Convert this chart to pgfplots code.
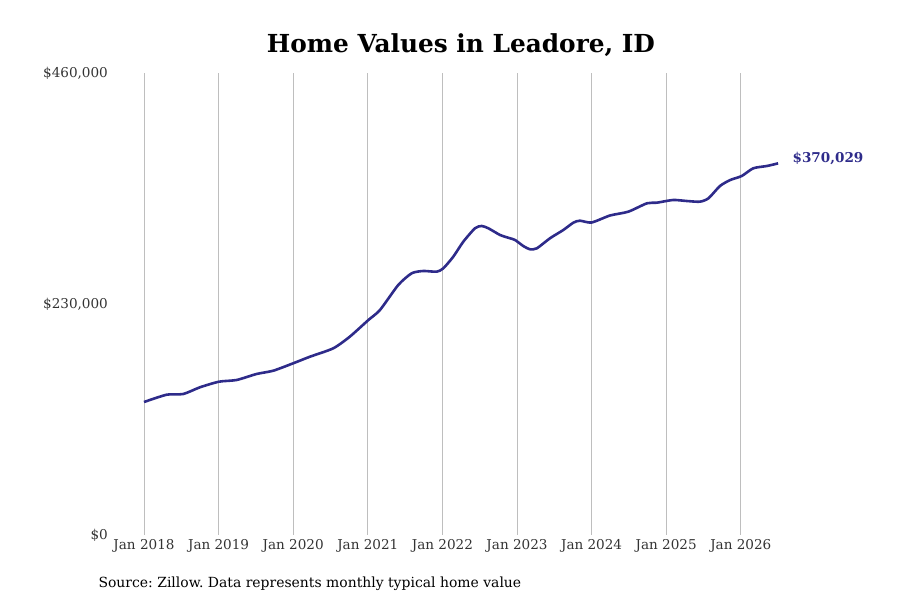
\documentclass[border=0pt]{standalone}
\usepackage{pgfplots}
\pgfplotsset{compat=1.18}
\usepackage{fontspec}
\setmainfont{DejaVu Serif}
\frenchspacing
\definecolor{linecol}{RGB}{46,43,138}
\definecolor{gridcol}{RGB}{190,190,190}
\begin{document}
\begin{tikzpicture}[x=1bp,y=1bp]
\useasboundingbox (0,0) rectangle (900,600);
\node[font=\fontsize{24.9}{29}\selectfont\bfseries] at (461,555) {Home Values in Leadore, ID};
\node[font=\fontsize{14}{17}\selectfont, anchor=west] at (95,16.5) {Source: Zillow. Data represents monthly typical home value};
\begin{axis}[
  at={(144bp,65bp)}, anchor=origin,
  scale only axis, width=690.05bp, height=462bp,
  xmin=-3, xmax=108, ymin=0, ymax=460000,
  axis line style={draw=none},
  tick style={draw=none},
  scaled y ticks=false,
  xtick={0,12,24,36,48,60,72,84,96},
  xticklabels={Jan 2018,Jan 2019,Jan 2020,Jan 2021,Jan 2022,Jan 2023,Jan 2024,Jan 2025,Jan 2026},
  ytick={0,230000,460000},
  yticklabels={\$0,\$230{,}000,\$460{,}000},
  xmajorgrids, major grid style={gridcol, line width=0.8bp},
  ticklabel style={font=\fontsize{13.6}{16}\selectfont, text=black!80},
  yticklabel style={anchor=east, xshift=-14bp},
  xticklabel style={yshift=-1bp},
  /pgf/number format/assume math mode=true,
  clip=false,
]
\addplot[linecol, line width=2.6bp, smooth, tension=0.4] coordinates {
(0,132400) (3.65,139700) (6.32,140400) (9.0,147060) (12.06,152640)
(14.9,154330) (18.1,160300) (20.8,163590) (24.0,170960) (26.7,177530)
(30.45,185890) (33.1,197440) (36.1,214070) (37.96,224030) (40.9,248920)
(43.06,260570) (44.93,262860) (47.08,262160) (48.15,265550) (49.75,277100)
(51.36,292030) (53.24,305370) (54.32,307660) (55.39,305370) (57.27,298700)
(58.35,296410) (59.68,293720) (61.0,287750) (62.1,284460) (63.2,285460)
(65.3,295420) (67.45,303680) (69.06,310950) (70.1,312940) (72.0,311150)
(74.96,318110) (77.9,321900) (80.9,330260) (82.5,330860) (85.1,333550)
(87.3,332550) (89.4,331860) (90.8,335240) (92.65,347490) (94.3,353460)
(96.15,357440) (98.0,365110) (100.2,367400) (102,370029)
};
\node[anchor=west, font=\fontsize{13.6}{16}\selectfont\bfseries, text=linecol, xshift=11bp, yshift=5bp] at (axis cs:102,370029) {\$370,029};
\end{axis}
\end{tikzpicture}
\end{document}
